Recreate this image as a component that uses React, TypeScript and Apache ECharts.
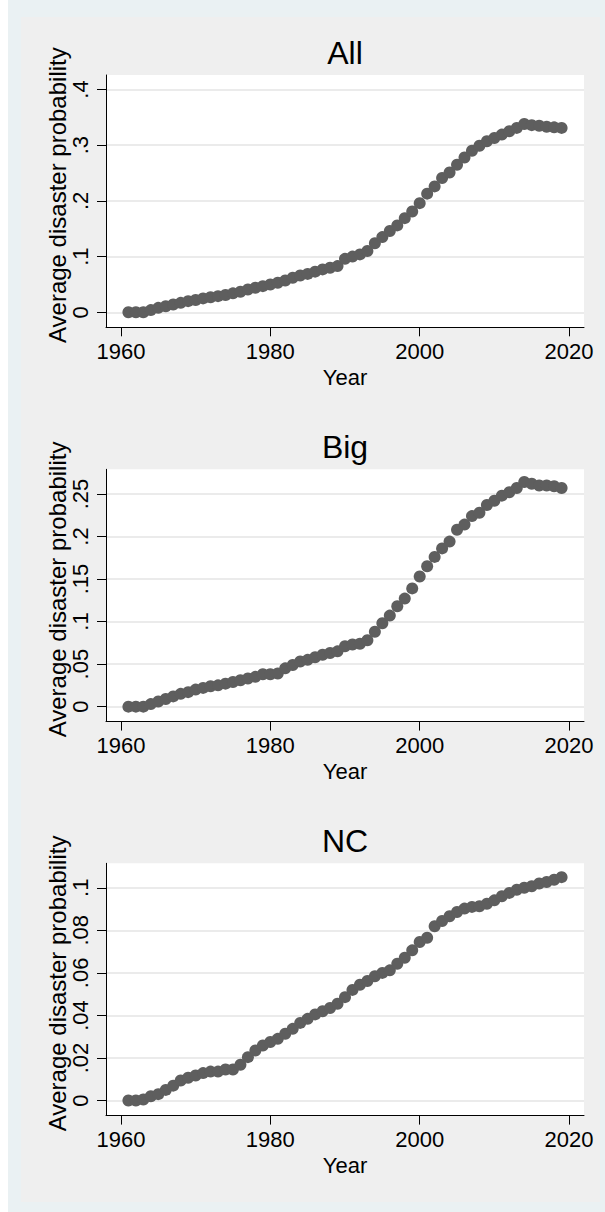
import React, { useEffect, useRef } from "react";
import * as echarts from "echarts";

const years = [
  1961, 1962, 1963, 1964, 1965, 1966, 1967, 1968, 1969, 1970,
  1971, 1972, 1973, 1974, 1975, 1976, 1977, 1978, 1979, 1980,
  1981, 1982, 1983, 1984, 1985, 1986, 1987, 1988, 1989, 1990,
  1991, 1992, 1993, 1994, 1995, 1996, 1997, 1998, 1999, 2000,
  2001, 2002, 2003, 2004, 2005, 2006, 2007, 2008, 2009, 2010,
  2011, 2012, 2013, 2014, 2015, 2016, 2017, 2018, 2019,
];

const allValues = [
  0.0, 0.0, 0.0, 0.004, 0.008, 0.011, 0.014, 0.017, 0.02, 0.022,
  0.025, 0.027, 0.029, 0.031, 0.034, 0.037, 0.041, 0.044, 0.047, 0.05,
  0.053, 0.057, 0.062, 0.066, 0.069, 0.073, 0.077, 0.08, 0.083, 0.096,
  0.1, 0.104, 0.11, 0.124, 0.135, 0.146, 0.156, 0.169, 0.181, 0.196,
  0.213, 0.226, 0.241, 0.251, 0.265, 0.278, 0.29, 0.299, 0.307, 0.313,
  0.319, 0.325, 0.331, 0.338, 0.336, 0.335, 0.333, 0.332, 0.331,
];

const bigValues = [
  0.0, 0.0, 0.0, 0.003, 0.006, 0.009, 0.012, 0.015, 0.017, 0.02,
  0.022, 0.024, 0.025, 0.027, 0.029, 0.031, 0.033, 0.035, 0.038, 0.038,
  0.039, 0.045, 0.049, 0.053, 0.055, 0.058, 0.061, 0.063, 0.065, 0.071,
  0.073, 0.074, 0.078, 0.088, 0.098, 0.107, 0.118, 0.127, 0.139, 0.153,
  0.165, 0.176, 0.186, 0.194, 0.208, 0.214, 0.224, 0.228, 0.237, 0.242,
  0.248, 0.252, 0.257, 0.264, 0.262, 0.26, 0.26, 0.259, 0.257,
];

const ncValues = [
  0.0, 0.0, 0.0005, 0.002, 0.003, 0.005, 0.007, 0.0094, 0.0107, 0.0118,
  0.0129, 0.0136, 0.0136, 0.0146, 0.0146, 0.0168, 0.0204, 0.0235, 0.0259, 0.0275,
  0.029, 0.0314, 0.0337, 0.0365, 0.0384, 0.0405, 0.042, 0.0435, 0.0455, 0.0486,
  0.052, 0.0544, 0.0562, 0.0584, 0.06, 0.0612, 0.0643, 0.0671, 0.0706, 0.0745,
  0.0765, 0.0819, 0.0844, 0.0866, 0.0886, 0.0902, 0.091, 0.0913, 0.0925, 0.0941,
  0.096, 0.0976, 0.0991, 0.1, 0.1007, 0.102, 0.1027, 0.1038, 0.105,
];

const panelTitles = ["All", "Big", "NC"];
const panelValues = [allValues, bigValues, ncValues];
const yTickMax = [0.4, 0.25, 0.1];
const yTickStep = [0.1, 0.05, 0.02];
const yAxisMin = [-0.0269, -0.0176, -0.00707];
const yAxisMax = [0.426, 0.279, 0.1115];
const xTickMin = 1960;
const xTickMax = 2020;
const xTickStep = 20;
const xAxisMin = 1958;
const xAxisMax = 2022;
const xTitle = "Year";
const yTitle = "Average disaster probability";

const FONT = "'Liberation Sans', Arial, Helvetica, sans-serif";
const W = 605;
const H = 1212;
const plotLeft = 106;
const plotRight = 584;
const panelTop = [75, 469.3, 863.3];
const plotH = 252.3;
const xTickLeft = 121;
const xTickRight = 569;
const markerColor = "#5e5e5e";
const gridColor = "#e4e4e4";

function fmt(v: number): string {
  if (Math.abs(v) < 1e-9) return "0";
  const s = String(+v.toFixed(3));
  return s.replace(/^0\./, ".");
}

export default function App() {
  const ref = useRef<HTMLDivElement>(null);

  useEffect(() => {
    document.body.style.margin = "0";
    if (!ref.current) return;
    const chart = echarts.init(ref.current, undefined, { renderer: "svg" });

    const grids: any[] = [];
    const xAxes: any[] = [];
    const yAxes: any[] = [];
    const series: any[] = [];
    const graphics: any[] = [
      { type: "rect", z: -10, shape: { x: 0, y: 0, width: 8, height: H }, style: { fill: "#ffffff" } },
      { type: "rect", z: -9, shape: { x: 21, y: 17, width: 579, height: 1185 }, style: { fill: "#efefef" } },
    ];

    panelTitles.forEach((title, i) => {
      const top = panelTop[i];
      const min = yAxisMin[i];
      const max = yAxisMax[i];
      const span = max - min;
      const gTop = top + ((max - yTickMax[i]) / span) * plotH;
      const gH = (yTickMax[i] / span) * plotH;

      // main grid (data)
      const gMain = grids.length;
      grids.push({
        left: plotLeft,
        width: plotRight - plotLeft,
        top,
        height: plotH,
        show: true,
        backgroundColor: "#ffffff",
        borderWidth: 0,
      });
      xAxes.push({
        gridIndex: gMain,
        type: "value",
        min: xAxisMin,
        max: xAxisMax,
        axisLine: { show: true, onZero: false, lineStyle: { color: "#000", width: 1 } },
        axisTick: { show: false },
        axisLabel: { show: false },
        splitLine: { show: false },
        name: xTitle,
        nameLocation: "middle",
        nameGap: 39,
        nameTextStyle: { fontSize: 22, fontFamily: FONT, color: "#000" },
      });
      yAxes.push({
        gridIndex: gMain,
        type: "value",
        min,
        max,
        axisLine: { show: true, onZero: false, lineStyle: { color: "#000", width: 1 } },
        axisTick: { show: false },
        axisLabel: { show: false },
        splitLine: { show: false },
        name: yTitle,
        nameLocation: "middle",
        nameRotate: 90,
        nameGap: 37,
        nameTextStyle: { fontSize: 24, fontFamily: FONT, color: "#000", padding: [0, 0, 0, 12] },
      });
      series.push({
        type: "scatter",
        xAxisIndex: gMain,
        yAxisIndex: gMain,
        symbol: "circle",
        symbolSize: 12,
        itemStyle: { color: markerColor, opacity: 1 },
        z: 3,
        data: years.map((yr, k) => [yr, panelValues[i][k]]),
      });

      // ghost grid for y ticks/gridlines
      const gY = grids.length;
      grids.push({ left: plotLeft, width: plotRight - plotLeft, top: gTop, height: gH, show: false });
      xAxes.push({ gridIndex: gY, type: "value", show: false, min: 0, max: 1 });
      yAxes.push({
        gridIndex: gY,
        type: "value",
        min: 0,
        max: yTickMax[i],
        interval: yTickStep[i],
        axisLine: { show: false },
        axisTick: { show: true, length: 9, lineStyle: { color: "#000", width: 1 } },
        axisLabel: {
          show: true,
          rotate: 90,
          margin: 15,
          fontSize: 22,
          fontFamily: FONT,
          color: "#000",
          formatter: (v: number) => fmt(v),
        },
        splitLine: { show: true, lineStyle: { color: gridColor, width: 1.5 } },
      });

      // ghost grid for x ticks
      const gX = grids.length;
      grids.push({ left: xTickLeft, width: xTickRight - xTickLeft, top, height: plotH, show: false });
      xAxes.push({
        gridIndex: gX,
        type: "value",
        min: xTickMin,
        max: xTickMax,
        interval: xTickStep,
        axisLine: { show: false },
        axisTick: { show: true, length: 9, lineStyle: { color: "#000", width: 1 } },
        axisLabel: {
          show: true,
          margin: 13,
          fontSize: 22,
          fontFamily: FONT,
          color: "#000",
          formatter: (v: number) => String(v),
        },
        splitLine: { show: false },
      });
      yAxes.push({ gridIndex: gX, type: "value", show: false, min: 0, max: 1 });

      graphics.push({
        type: "text",
        x: (plotLeft + plotRight) / 2,
        y: top - 22,
        style: {
          text: title,
          fontSize: 32,
          fontFamily: FONT,
          fill: "#000",
          align: "center",
          verticalAlign: "middle",
          textAlign: "center",
          textVerticalAlign: "middle",
        },
      });
    });

    chart.setOption({
      animation: false,
      backgroundColor: "#eaf1f3",
      textStyle: { fontFamily: FONT },
      grid: grids,
      xAxis: xAxes,
      yAxis: yAxes,
      series,
      graphic: graphics,
    });

    return () => chart.dispose();
  }, []);

  return <div ref={ref} style={{ width: W, height: H }} />;
}
